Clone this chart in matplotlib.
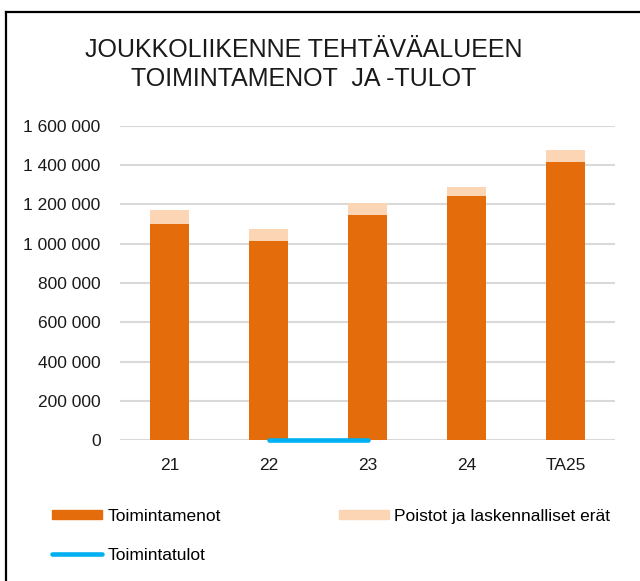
import numpy as np
import matplotlib.pyplot as plt
from matplotlib.lines import Line2D
from matplotlib.patches import Patch

plt.rcParams['font.family'] = ['Liberation Sans', 'DejaVu Sans']

# Data
categories = ['21', '22', '23', '24', 'TA25']
toimintamenot = [1099000, 1013000, 1145000, 1243000, 1419000]
poistot = [71000, 64000, 62000, 45000, 59000]
toimintatulot = [np.nan, 1500, 1500, np.nan, np.nan]
yticks = [0, 200000, 400000, 600000, 800000, 1000000, 1200000, 1400000, 1600000]

c_menot = '#E46C0A'
c_poistot = '#FCD5B5'
c_tulot = '#00B0F0'

fig = plt.figure(figsize=(6.4, 5.81), dpi=100)
ax = fig.add_axes([120 / 640, 141 / 581, 495 / 640, 314 / 581])

x = np.arange(len(categories))
ax.bar(x, toimintamenot, width=0.39, color=c_menot, zorder=2)
ax.bar(x, poistot, width=0.39, bottom=toimintamenot, color=c_poistot, zorder=2)
ax.plot(x, toimintatulot, color=c_tulot, lw=3.3, solid_capstyle='round',
        zorder=3, clip_on=False)

ax.set_xlim(-0.5, len(categories) - 0.5)
ax.set_ylim(0, 1600000)
ax.set_yticks(yticks)
ax.set_yticklabels([f'{v:,}'.replace(',', ' ') for v in yticks])
ax.set_xticks(x)
ax.set_xticklabels(categories)
ax.tick_params(axis='both', length=0, labelsize=12.5, colors='#1a1a1a')
ax.tick_params(axis='y', pad=14)
ax.tick_params(axis='x', pad=13)
ax.grid(axis='y', color='#d9d9d9', lw=1.5, zorder=0)
for s in ax.spines.values():
    s.set_visible(False)

fig.text(304 / 640, 1 - 38 / 581, 'JOUKKOLIIKENNE TEHTÄVÄALUEEN\nTOIMINTAMENOT  JA -TULOT',
         ha='center', va='top', fontsize=18, linespacing=1.28, color='#1a1a1a')

handles = [Patch(color=c_menot, label='Toimintamenot'),
           Line2D([], [], color=c_tulot, lw=3.3, solid_capstyle='round', label='Toimintatulot'),
           Patch(color=c_poistot, label='Poistot ja laskennalliset erät')]
fig.legend(handles=handles, ncol=2, loc='upper left', bbox_to_anchor=(43 / 640, 1 - 500 / 581),
           frameon=False, fontsize=12.5, handlelength=2.9, handleheight=0.5,
           handletextpad=0.3, columnspacing=6.8, labelspacing=1.4, borderpad=0)

# frame (top and left edges visible)
fig.add_artist(Line2D([6 / 640, 6 / 640], [0, 1 - 11.5 / 581], color='black', lw=1.6))
fig.add_artist(Line2D([6 / 640, 1], [1 - 11.5 / 581, 1 - 11.5 / 581], color='black', lw=1.6))

fig.savefig('out.png', dpi=100)
